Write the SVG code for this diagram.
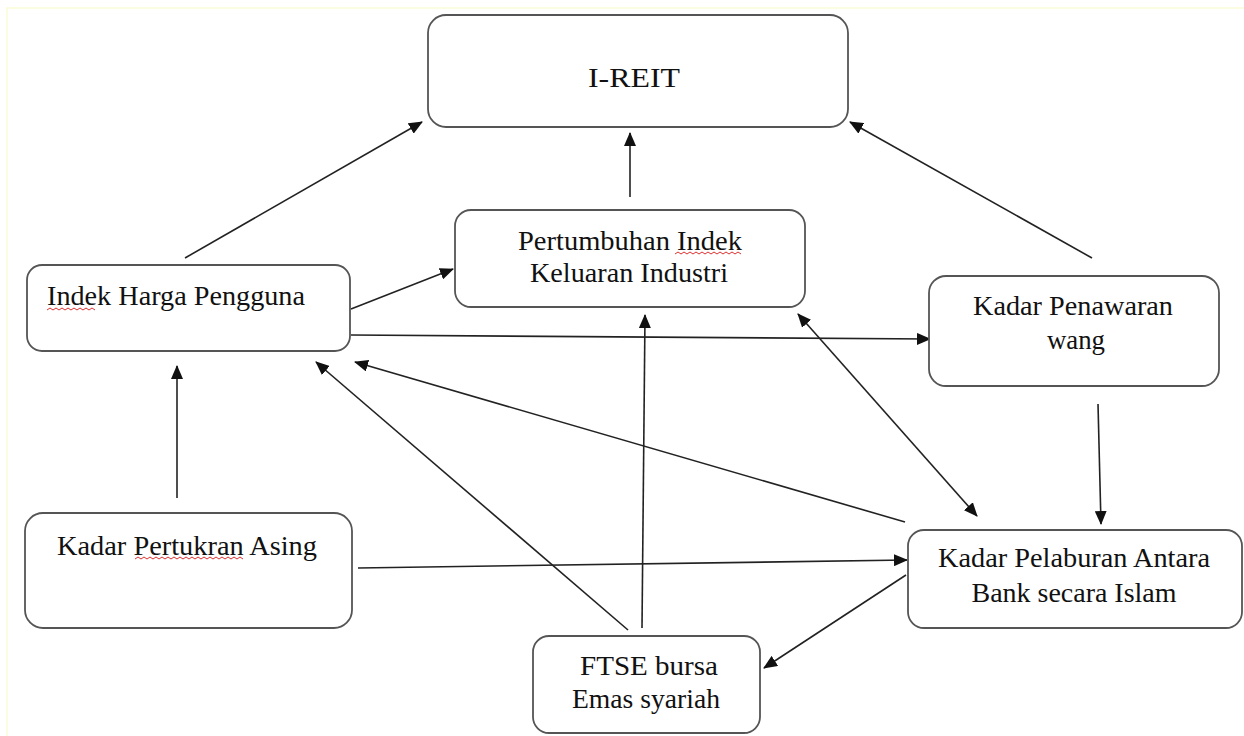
<svg xmlns="http://www.w3.org/2000/svg" width="1244" height="736" viewBox="0 0 1244 736">
<style>
.box{fill:#fff;stroke:#555;stroke-width:1.8}
.t{font-family:'Liberation Serif','Tinos','Times New Roman','DejaVu Serif',serif;font-size:27px;fill:#111}
.c{text-anchor:middle}
.e{fill:none;stroke:#222;stroke-width:1.6}
.sq{fill:none;stroke:#e03030;stroke-width:1}
</style>
<defs>
<marker id="ah" markerUnits="userSpaceOnUse" markerWidth="14" markerHeight="12" refX="13" refY="6" orient="auto-start-reverse">
<path d="M0,0 L14,6 L0,12 Z" fill="#111"/>
</marker>
</defs>
<rect width="1244" height="736" fill="#fff"/>
<path d="M7,736 V8 H1244" fill="none" stroke="#fbfbd6" stroke-width="1.5"/>
<g id="connectors">
<line class="e" x1="185" y1="258" x2="422" y2="122" marker-end="url(#ah)"/>
<line class="e" x1="630" y1="197" x2="630" y2="133" marker-end="url(#ah)"/>
<line class="e" x1="1092" y1="258" x2="850" y2="122" marker-end="url(#ah)"/>
<line class="e" x1="351" y1="309" x2="453" y2="269" marker-end="url(#ah)"/>
<line class="e" x1="351" y1="335" x2="930" y2="339" marker-end="url(#ah)"/>
<line class="e" x1="798" y1="314" x2="977" y2="516" marker-start="url(#ah)" marker-end="url(#ah)"/>
<line class="e" x1="1098" y1="404" x2="1101" y2="524" marker-end="url(#ah)"/>
<line class="e" x1="905" y1="522" x2="355" y2="362" marker-end="url(#ah)"/>
<line class="e" x1="628" y1="630" x2="316" y2="362" marker-end="url(#ah)"/>
<line class="e" x1="642" y1="628" x2="645" y2="315" marker-end="url(#ah)"/>
<line class="e" x1="177" y1="498" x2="177" y2="366" marker-end="url(#ah)"/>
<line class="e" x1="358" y1="568" x2="907" y2="560" marker-end="url(#ah)"/>
<line class="e" x1="906" y1="575" x2="764" y2="668" marker-end="url(#ah)"/>
</g>
<g id="ireit">
<rect class="box" x="428" y="15" width="420" height="112" rx="18"/>
<text class="t c" x="634" y="87" textLength="92" lengthAdjust="spacingAndGlyphs">I-REIT</text>
</g>
<g id="pertumbuhan">
<rect class="box" x="455" y="210" width="350" height="97" rx="16"/>
<text class="t c" x="630" y="250" textLength="224" lengthAdjust="spacingAndGlyphs">Pertumbuhan Indek</text>
<text class="t c" x="629" y="282" textLength="198" lengthAdjust="spacingAndGlyphs">Keluaran Industri</text>
<path class="sq" d="M675,254 l3,-2 l3,2 l3,-2 l3,2 l3,-2 l3,2 l3,-2 l3,2 l3,-2 l3,2 l3,-2 l3,2 l3,-2 l3,2 l3,-2 l3,2 l3,-2 l3,2 l3,-2 l3,2 l3,-2 l3,2"/>
</g>
<g id="indek-harga">
<rect class="box" x="27" y="265" width="323" height="86" rx="15"/>
<text class="t" x="47" y="305" textLength="258" lengthAdjust="spacingAndGlyphs">Indek Harga Pengguna</text>
<path class="sq" d="M47,310 l3,-2 l3,2 l3,-2 l3,2 l3,-2 l3,2 l3,-2 l3,2 l3,-2 l3,2 l3,-2 l3,2 l3,-2 l3,2 l3,-2 l3,2"/>
</g>
<g id="penawaran">
<rect class="box" x="929" y="276" width="290" height="110" rx="17"/>
<text class="t c" x="1073" y="315" textLength="200" lengthAdjust="spacingAndGlyphs">Kadar Penawaran</text>
<text class="t c" x="1076" y="349" textLength="58" lengthAdjust="spacingAndGlyphs">wang</text>
</g>
<g id="pertukaran">
<rect class="box" x="25" y="513" width="327" height="115" rx="18"/>
<text class="t c" x="187" y="555" textLength="260" lengthAdjust="spacingAndGlyphs">Kadar Pertukran Asing</text>
<path class="sq" d="M135,559 l3,-2 l3,2 l3,-2 l3,2 l3,-2 l3,2 l3,-2 l3,2 l3,-2 l3,2 l3,-2 l3,2 l3,-2 l3,2 l3,-2 l3,2 l3,-2 l3,2 l3,-2 l3,2 l3,-2 l3,2 l3,-2 l3,2 l3,-2 l3,2 l3,-2 l3,2 l3,-2 l3,2 l3,-2 l3,2 l3,-2 l3,2 l3,-2 l3,2"/>
</g>
<g id="pelaburan">
<rect class="box" x="908" y="530" width="334" height="98" rx="16"/>
<text class="t c" x="1074" y="567" textLength="272" lengthAdjust="spacingAndGlyphs">Kadar Pelaburan Antara</text>
<text class="t c" x="1074" y="602" textLength="205" lengthAdjust="spacingAndGlyphs">Bank secara Islam</text>
</g>
<g id="ftse">
<rect class="box" x="533" y="636" width="227" height="97" rx="16"/>
<text class="t c" x="649" y="675" textLength="138" lengthAdjust="spacingAndGlyphs">FTSE bursa</text>
<text class="t c" x="646" y="708" textLength="148" lengthAdjust="spacingAndGlyphs">Emas syariah</text>
</g>
</svg>
